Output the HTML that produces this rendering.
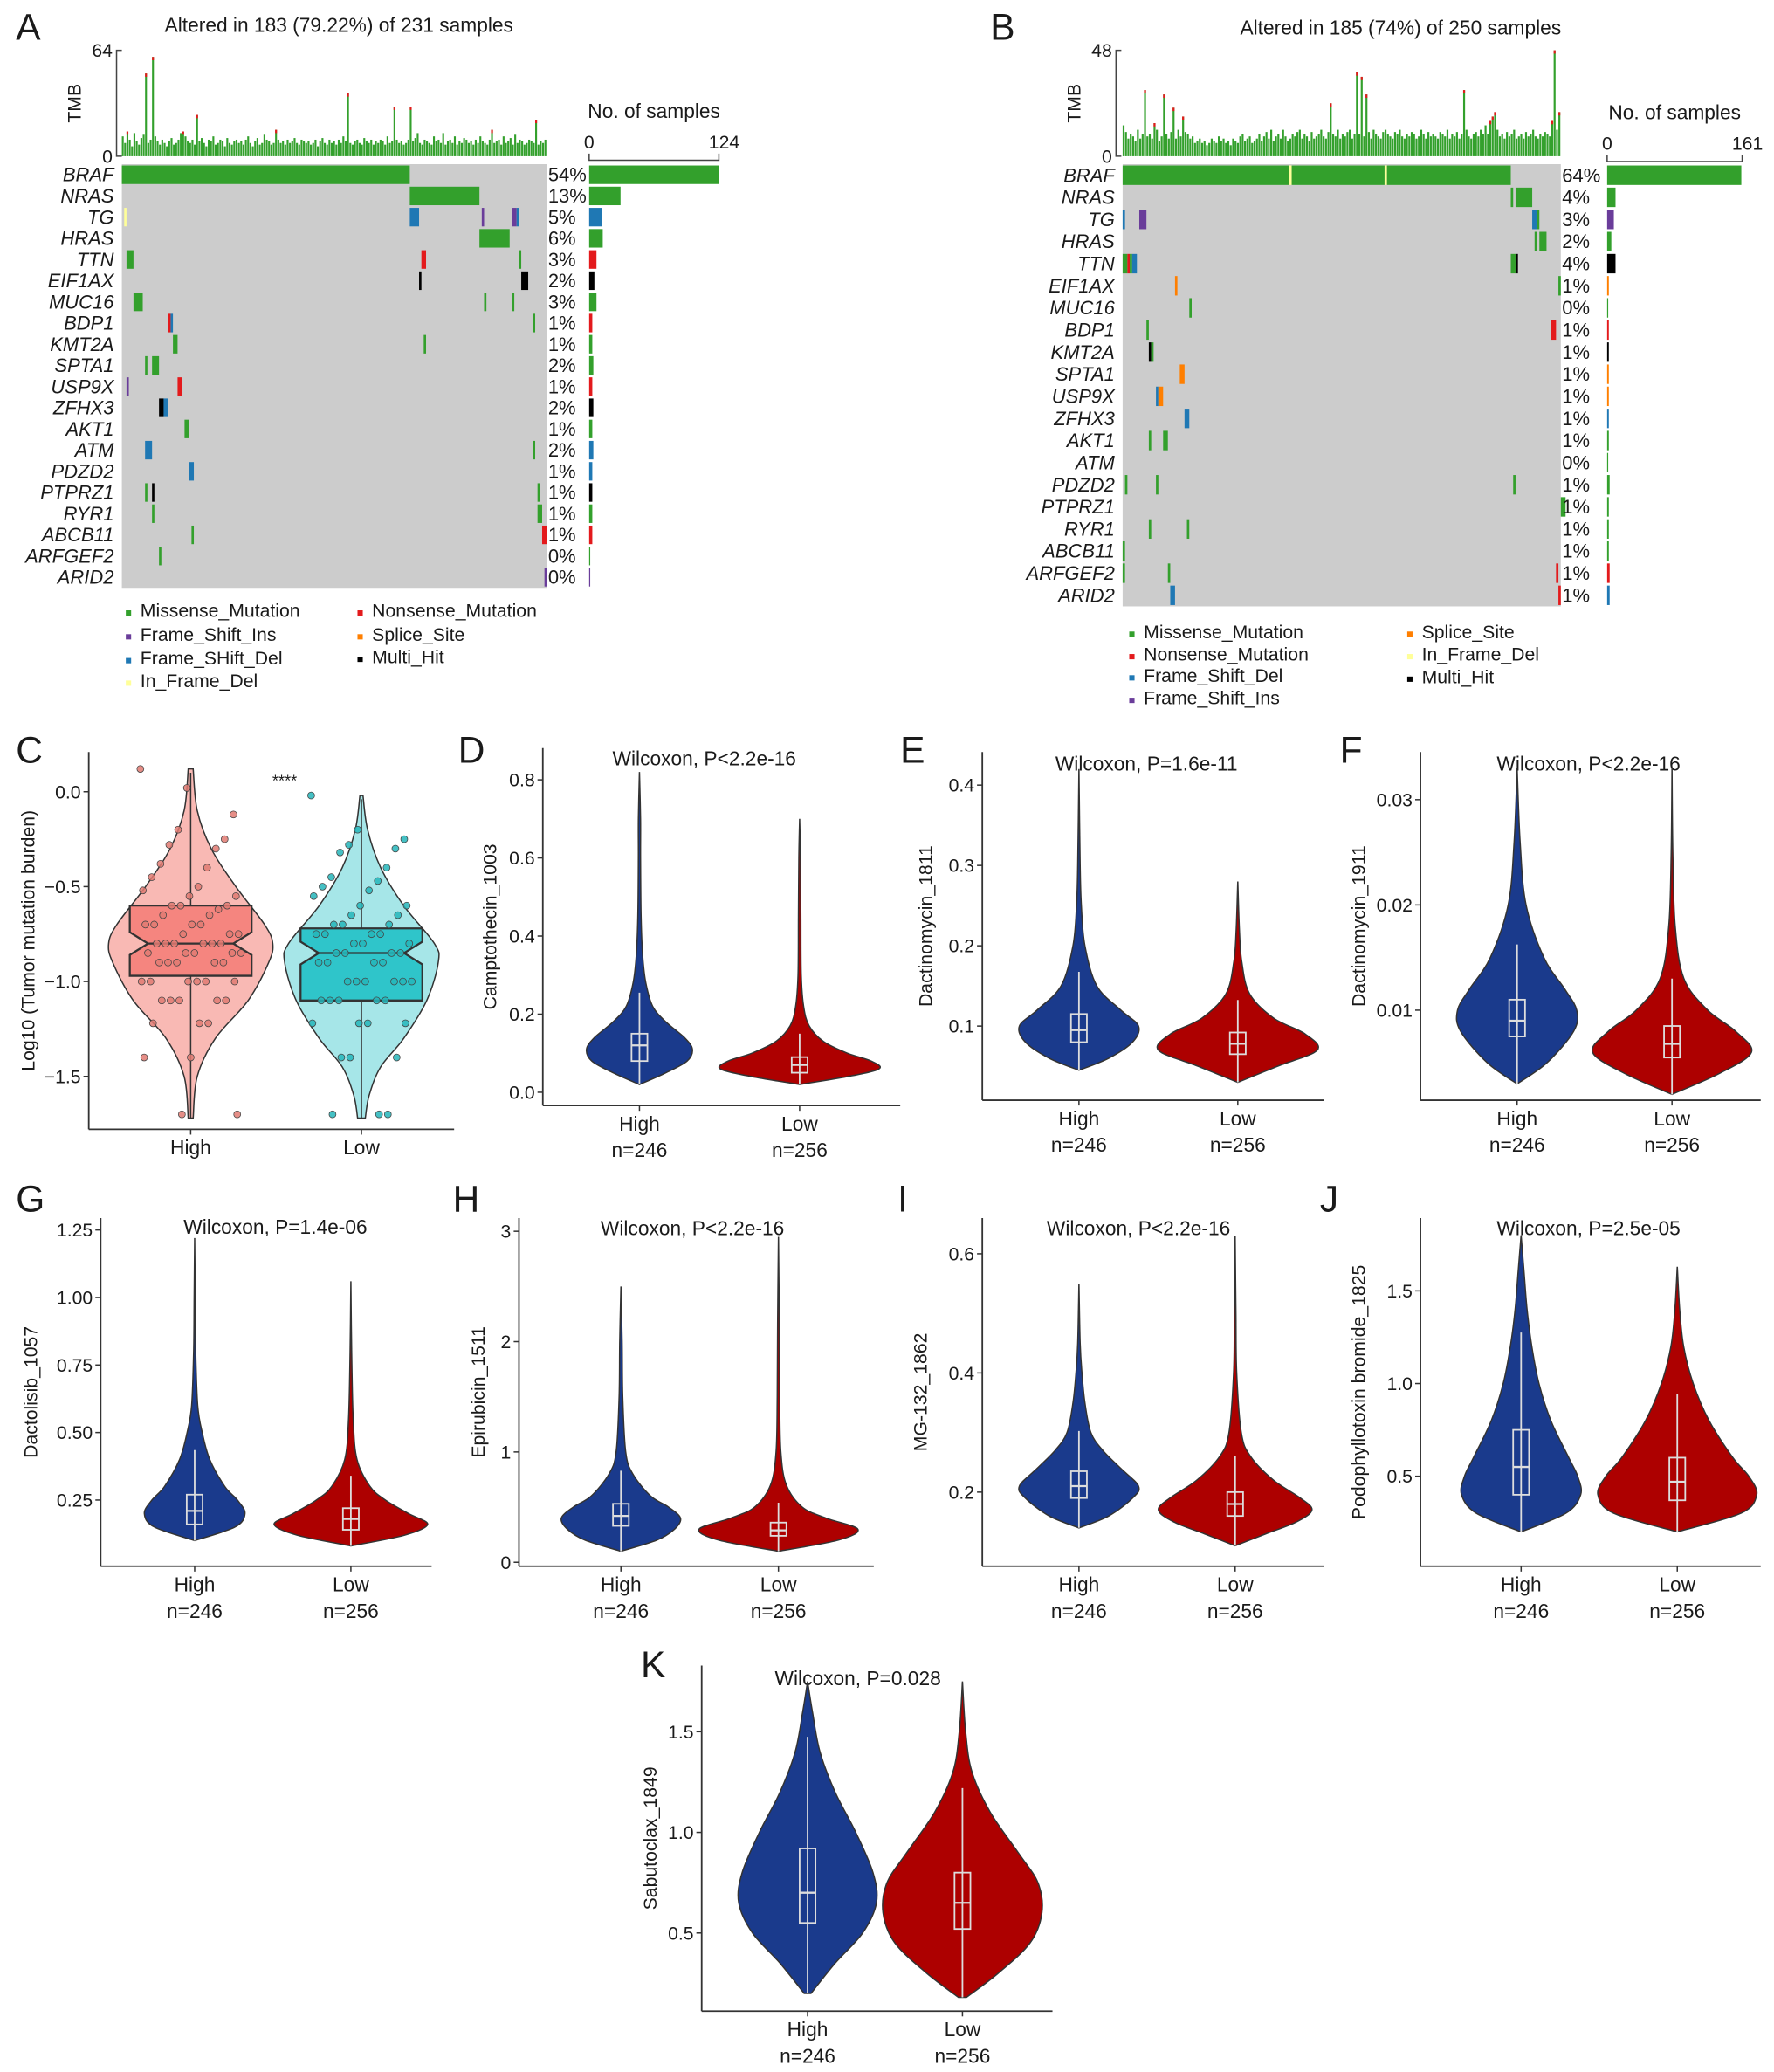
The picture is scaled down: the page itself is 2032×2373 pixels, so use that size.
<!DOCTYPE html>
<html><head><meta charset="utf-8"><style>
html,body{margin:0;padding:0;background:#fff}
svg{display:block}
text{font-family:"Liberation Sans",Arial,sans-serif;fill:#1a1a1a}
</style></head><body>
<svg id="fig" xmlns="http://www.w3.org/2000/svg" width="2032" height="2373" viewBox="0 0 1340 1565"></svg>
<script>
// ---------- Oncoplot data ----------
const typeNames=['Missense_Mutation','Nonsense_Mutation','Frame_Shift_Ins','Frame_Shift_Del','Splice_Site','In_Frame_Del','Multi_Hit'];
const typeColors=['#33a02c','#e31a1c','#6a3d9a','#1f78b4','#ff7f00','#ffff99','#000000'];
const genesA=['BRAF','NRAS','TG','HRAS','TTN','EIF1AX','MUC16','BDP1','KMT2A','SPTA1','USP9X','ZFHX3','AKT1','ATM','PDZD2','PTPRZ1','RYR1','ABCB11','ARFGEF2','ARID2'];
const pctA=['54%','13%','5%','6%','3%','2%','3%','1%','1%','2%','1%','2%','1%','2%','1%','1%','1%','1%','0%','0%'];
const countsA=[124,30,12,13,7,5,7,3,3,4,3,4,3,4,3,3,3,3,1,1];
const barTypeA=[0,0,3,0,1,6,0,1,0,0,1,6,0,3,3,6,0,1,0,2];
const segsA=[
 [[0,124,0]],[[124,154,0]],[[1,2,5],[124,128,3],[155,156,2],[168,170,2],[170,171,3]],[[154,167,0]],
 [[2,5,0],[129,131,1],[171,172,0]],[[128,129,6],[172,175,6]],[[5,9,0],[156,157,0],[168,169,0]],
 [[20,21,1],[21,22,3],[177,178,0]],[[22,24,0],[130,131,0]],[[10,11,0],[13,16,0]],[[2,3,2],[24,26,1]],
 [[16,18,6],[18,20,3]],[[27,29,0]],[[10,13,3],[177,178,0]],[[29,31,3]],[[10,11,0],[13,14,6],[179,180,0]],
 [[13,14,0],[179,181,0]],[[30,31,0],[181,183,1]],[[16,17,0]],[[182,183,2]]
];
const tmbA=[12,8,15,10,6,14,9,7,11,13,50,8,10,60,12,9,7,10,8,6,9,11,7,8,10,14,15,12,9,8,10,7,25,9,11,8,6,10,9,12,7,8,10,9,6,11,8,7,9,10,8,9,7,10,12,8,6,9,11,7,8,13,10,9,7,8,16,10,8,9,7,10,8,9,11,8,7,10,9,8,9,7,8,10,6,9,11,8,7,10,8,9,7,10,8,12,9,38,8,7,9,10,8,7,11,9,8,10,7,9,8,10,9,7,12,8,9,30,10,8,9,7,8,10,30,9,11,14,8,7,10,9,8,7,12,9,10,8,14,7,9,10,8,12,7,9,8,11,10,8,9,7,10,8,12,9,8,7,10,16,8,9,10,7,12,8,9,11,7,13,8,10,9,7,8,10,9,8,22,7,9,8,10];
const genesB=['BRAF','NRAS','TG','HRAS','TTN','EIF1AX','MUC16','BDP1','KMT2A','SPTA1','USP9X','ZFHX3','AKT1','ATM','PDZD2','PTPRZ1','RYR1','ABCB11','ARFGEF2','ARID2'];
const pctB=['64%','4%','3%','2%','4%','1%','0%','1%','1%','1%','1%','1%','1%','0%','1%','1%','1%','1%','1%','1%'];
const countsB=[160,10,8,5,10,2,1,2,2,2,2,2,2,0,3,2,2,2,3,3];
const barTypeB=[0,0,2,0,6,4,0,1,6,4,4,3,0,0,0,0,0,0,1,3];
const segsB=[
 [[0,70,0],[70,71,5],[71,110,0],[110,111,5],[111,163,0]],[[163,164,0],[165,172,0]],[[0,1,3],[7,10,2],[172,174,3],[174,175,0]],[[173,174,0],[175,178,0]],
 [[0,2,0],[2,3,1],[3,4,0],[4,6,3],[163,165,0],[165,166,6]],[[22,23,4],[183,184,0]],[[28,29,0]],[[10,11,0],[180,182,1]],
 [[11,12,6],[12,13,0]],[[24,26,4]],[[14,15,3],[15,17,4]],[[26,28,3]],[[11,12,0],[17,19,0]],[],
 [[1,2,0],[14,15,0],[164,165,0]],[[184,186,0]],[[11,12,0],[27,28,0]],[[0,1,0]],[[0,1,0],[19,20,0],[182,183,1]],[[20,22,3],[183,184,1]]
];
const tmbB=[14,11,8,10,9,7,12,8,10,30,9,10,8,15,12,7,9,28,10,8,11,22,8,12,9,18,11,10,8,9,6,7,8,6,7,5,6,8,7,6,9,7,8,6,7,5,8,7,6,9,10,7,8,9,6,7,8,10,7,9,11,8,12,7,9,10,8,12,9,7,8,10,9,11,12,8,10,9,7,11,8,9,10,12,9,8,11,24,10,9,12,8,10,9,11,12,8,10,38,10,36,9,28,11,8,12,10,9,8,11,12,10,9,8,11,10,12,9,8,10,9,11,10,8,9,12,10,8,11,9,10,9,8,11,10,9,12,8,10,9,11,8,10,30,12,9,8,10,11,9,12,10,14,10,16,18,20,12,9,10,8,11,9,10,12,8,9,10,8,11,9,10,12,9,8,10,9,11,10,9,16,48,12,20];

// ---------- Violin data (C) ----------
const cTicks=[0,-0.5,-1,-1.5];
const cTickLabels=['0.0','\u22120.5','\u22121.0','\u22121.5'];
const cHighVals=[-1.72,-1.5,-1.3,-1.1,-0.9,-0.8,-0.7,-0.5,-0.3,-0.1,0.12];
const cHighDens=[0.03,0.08,0.3,0.7,0.95,1,0.9,0.55,0.25,0.08,0.03];
const cHighBox=[-0.97,-0.8,-0.6];
const cLowVals=[-1.72,-1.6,-1.45,-1.3,-1.1,-0.9,-0.8,-0.6,-0.4,-0.2,-0.02];
const cLowDens=[0.05,0.1,0.25,0.55,0.85,1,0.95,0.55,0.25,0.08,0.02];
const cLowBox=[-1.1,-0.85,-0.72];
const cHighPts=[0.12,0.02,-0.12,-0.2,-0.25,-0.28,-0.3,-0.38,-0.4,-0.45,-0.5,-0.52,-0.55,-0.55,-0.6,-0.6,-0.6,-0.62,-0.65,-0.65,-0.7,-0.7,-0.7,-0.7,-0.75,-0.75,-0.75,-0.8,-0.8,-0.8,-0.8,-0.8,-0.8,-0.85,-0.85,-0.85,-0.85,-0.85,-0.9,-0.9,-0.9,-0.9,-0.9,-1,-1,-1,-1,-1,-1,-1.1,-1.1,-1.1,-1.1,-1.1,-1.22,-1.22,-1.22,-1.4,-1.4,-1.7,-1.7];
const cLowPts=[-0.02,-0.2,-0.25,-0.28,-0.3,-0.32,-0.4,-0.45,-0.47,-0.5,-0.52,-0.55,-0.6,-0.6,-0.65,-0.65,-0.7,-0.7,-0.7,-0.75,-0.75,-0.75,-0.75,-0.8,-0.8,-0.8,-0.85,-0.85,-0.85,-0.85,-0.9,-0.9,-0.9,-0.9,-1,-1,-1,-1,-1,-1,-1.1,-1.1,-1.1,-1.1,-1.1,-1.22,-1.22,-1.22,-1.22,-1.4,-1.4,-1.4,-1.7,-1.7,-1.7];

// ---------- Violin data (D–K) ----------
const dTicks=[0,0.2,0.4,0.6,0.8]; const dTickLabels=['0.0','0.2','0.4','0.6','0.8'];
const dHighVals=[0.02,0.05,0.08,0.11,0.14,0.18,0.22,0.28,0.35,0.45,0.6,0.7,0.82];
const dHighDens=[0,0.5,0.9,1,0.85,0.5,0.25,0.12,0.06,0.03,0.02,0.02,0];
const dHighBox=[0.08,0.12,0.15];
const dLowVals=[0.02,0.04,0.06,0.08,0.1,0.13,0.17,0.22,0.3,0.45,0.6,0.7];
const dLowDens=[0,0.6,1,0.9,0.6,0.3,0.12,0.05,0.02,0.015,0.01,0];
const dLowBox=[0.05,0.07,0.09];

const eTicks=[0.1,0.2,0.3,0.4]; const eTickLabels=['0.1','0.2','0.3','0.4'];
const eHighVals=[0.045,0.06,0.08,0.1,0.12,0.15,0.2,0.25,0.3,0.42];
const eHighDens=[0,0.5,0.9,1,0.7,0.3,0.1,0.04,0.02,0];
const eHighBox=[0.08,0.095,0.115];
const eLowVals=[0.03,0.05,0.07,0.09,0.11,0.14,0.18,0.22,0.28];
const eLowDens=[0,0.5,1,0.85,0.45,0.15,0.05,0.02,0];
const eLowBox=[0.065,0.078,0.092];

const fTicks=[0.01,0.02,0.03]; const fTickLabels=['0.01','0.02','0.03'];
const fHighVals=[0.003,0.005,0.008,0.01,0.012,0.015,0.02,0.026,0.033];
const fHighDens=[0,0.5,0.95,1,0.8,0.45,0.15,0.05,0];
const fHighBox=[0.0075,0.009,0.011];
const fLowVals=[0.002,0.004,0.006,0.008,0.01,0.013,0.018,0.025,0.033];
const fLowDens=[0,0.6,1,0.8,0.45,0.15,0.04,0.01,0];
const fLowBox=[0.0055,0.0068,0.0085];

const gTicks=[0.25,0.5,0.75,1,1.25]; const gTickLabels=['0.25','0.50','0.75','1.00','1.25'];
const gHighVals=[0.1,0.15,0.2,0.25,0.3,0.4,0.5,0.6,0.8,1.0,1.22];
const gHighDens=[0,0.8,1,0.85,0.6,0.3,0.15,0.06,0.02,0.01,0];
const gHighBox=[0.16,0.21,0.27];
const gLowVals=[0.08,0.12,0.16,0.2,0.25,0.3,0.4,0.55,0.8,1.06];
const gLowDens=[0,0.7,1,0.75,0.45,0.25,0.08,0.03,0.01,0];
const gLowBox=[0.14,0.18,0.22];

const hTicks=[0,1,2,3]; const hTickLabels=['0','1','2','3'];
const hHighVals=[0.1,0.2,0.3,0.4,0.5,0.6,0.8,1.0,1.5,2.0,2.5];
const hHighDens=[0,0.6,0.9,1,0.8,0.5,0.2,0.08,0.03,0.02,0];
const hHighBox=[0.33,0.42,0.53];
const hLowVals=[0.1,0.2,0.3,0.4,0.5,0.7,1.0,1.5,2.2,2.95];
const hLowDens=[0,0.75,1,0.6,0.3,0.1,0.03,0.015,0.01,0];
const hLowBox=[0.24,0.29,0.36];

const iTicks=[0.2,0.4,0.6]; const iTickLabels=['0.2','0.4','0.6'];
const iHighVals=[0.14,0.16,0.19,0.21,0.24,0.27,0.3,0.35,0.4,0.45,0.55];
const iHighDens=[0,0.5,0.9,1,0.7,0.4,0.2,0.1,0.05,0.02,0];
const iHighBox=[0.19,0.21,0.235];
const iLowVals=[0.11,0.13,0.15,0.17,0.19,0.22,0.26,0.3,0.4,0.5,0.63];
const iLowDens=[0,0.4,0.8,1,0.85,0.5,0.2,0.08,0.02,0.01,0];
const iLowBox=[0.16,0.18,0.2];

const jTicks=[0.5,1,1.5]; const jTickLabels=['0.5','1.0','1.5'];
const jHighVals=[0.2,0.3,0.4,0.5,0.6,0.8,1.0,1.2,1.4,1.6,1.8];
const jHighDens=[0,0.75,1,0.95,0.8,0.5,0.3,0.18,0.1,0.05,0];
const jHighBox=[0.4,0.55,0.75];
const jLowVals=[0.2,0.3,0.4,0.5,0.6,0.8,1.0,1.2,1.4,1.63];
const jLowDens=[0,0.8,1,0.9,0.7,0.4,0.2,0.08,0.03,0];
const jLowBox=[0.37,0.47,0.6];

const kTicks=[0.5,1,1.5]; const kTickLabels=['0.5','1.0','1.5'];
const kHighVals=[0.2,0.35,0.5,0.65,0.8,1.0,1.2,1.4,1.6,1.75];
const kHighDens=[0.05,0.4,0.8,1,0.95,0.7,0.4,0.18,0.07,0];
const kHighBox=[0.55,0.7,0.92];
const kLowVals=[0.18,0.3,0.45,0.6,0.75,0.9,1.1,1.3,1.5,1.75];
const kLowDens=[0.05,0.45,0.85,1,0.95,0.7,0.35,0.12,0.04,0];
const kLowBox=[0.52,0.65,0.8];

// ---------- helpers ----------
const NS='http://www.w3.org/2000/svg';
const svg=document.getElementById('fig');
function mk(tag,attrs,parent){const e=document.createElementNS(NS,tag);for(const k in attrs)e.setAttribute(k,attrs[k]);(parent||svg).appendChild(e);return e;}
function txt(x,y,s,size,anchor,extra,parent){const e=mk('text',Object.assign({x:x,y:y,'font-size':size,'text-anchor':anchor||'start'},extra||{}),parent);e.textContent=s;return e;}
function grp(){return mk('g',{});}

// ---------- Oncoplot ----------
function drawOnco(o){
  const g=grp();
  
  
  const L=txt(o.letterX,o.letterY,o.letter,28,'start',{},g);
  
  
  const T=txt(o.titleX,o.titleY,o.title,15,'middle',{},g);
  
  
  const n=o.tmb.length, sw=(o.gx1-o.gx0)/n;
  const ty=v=>o.tmbBase-(v/o.tmbMax)*(o.tmbBase-o.tmbTop);
  const ax=mk('path',{d:`M${o.tmbAxisX+4},${o.tmbTop}H${o.tmbAxisX}V${o.tmbBase}H${o.tmbAxisX+4}`,fill:'none',stroke:'#444','stroke-width':1},g);
  
  
  txt(o.tmbAxisX-3,o.tmbTop+5,String(o.tmbMax),14,'end',{},g);
  txt(o.tmbAxisX-3,o.tmbBase+5,'0',14,'end',{},g);
  const tl=txt(0,0,'TMB',14,'middle',{transform:`translate(${o.tmbAxisX-27},${(o.tmbTop+o.tmbBase)/2}) rotate(-90)`},g);
  
  
  o.tmb.forEach((v,i)=>{
    const x=o.gx0+i*sw, y=ty(v);
    const b=mk('rect',{x:x,y:y,width:sw*0.8,height:o.tmbBase-y,fill:'#33a02c'},g);
    
    
    if(v>14){const c=mk('rect',{x:x,y:y,width:sw*0.8,height:2.5,fill:'#e31a1c'},g);
      
      }
  });
  const rows=o.genes.length, rh=(o.gy1-o.gy0)/rows;
  const bg=mk('rect',{x:o.gx0,y:o.gy0,width:o.gx1-o.gx0,height:o.gy1-o.gy0,fill:'#cccccc'},g);
  
  
  o.genes.forEach((gn,r)=>{
    const yc=o.gy0+r*rh;
    const gl=txt(o.gx0-6,yc+rh/2+5,gn,14.5,'end',{'font-style':'italic'},g);
    
    
    o.segs[r].forEach(s=>{
      const rc=mk('rect',{x:o.gx0+s[0]*sw,y:yc+1,width:(s[1]-s[0])*sw,height:rh-2,fill:typeColors[s[2]]},g);
      
      
    });
    const pl=txt(o.gx1+1,yc+rh/2+5,o.pct[r],14.5,'start',{},g);
    
    
    const bw=o.counts[r]/o.cmax*(o.bx1-o.bx0);
    const br=mk('rect',{x:o.bx0,y:yc+1,width:Math.max(bw,0.8),height:rh-2,fill:typeColors[o.barType[r]]},g);
    
    
  });
  const ra=mk('path',{d:`M${o.bx0},${o.baxY-5}V${o.baxY}H${o.bx1}V${o.baxY-5}`,fill:'none',stroke:'#444'},g);
  
  
  txt(o.bx0,o.baxY-9,'0',14,'middle',{},g);
  txt(o.bx1+4,o.baxY-9,String(o.cmax),14,'middle',{},g);
  const nt=txt((o.bx0+o.bx1)/2,o.baxY-32,'No. of samples',15,'middle',{},g);
  
  
  o.legend.forEach(l=>{
    const lr=mk('rect',{x:l[0],y:l[1]-4,width:4,height:4,fill:typeColors[l[2]]},g);
    
    
    const lt=txt(l[0]+11,l[1]+1,typeNames[l[2]]==='Frame_Shift_Del'&&o.name==='oncoplot-a'?'Frame_SHift_Del':typeNames[l[2]],14,'start',{},g);
    
    
  });
}
drawOnco({name:'oncoplot-a',letter:'A',letterX:12,letterY:30,title:'Altered in 183 (79.22%) of 231 samples',titleX:256,titleY:24,
 tmb:tmbA,tmbMax:64,tmbTop:38,tmbBase:118,tmbAxisX:88,gx0:92,gx1:413,gy0:124,gy1:444,genes:genesA,segs:segsA,pct:pctA,counts:countsA,barType:barTypeA,
 cmax:124,bx0:445,bx1:543,baxY:121,
 legend:[[95,465,0],[95,483,2],[95,501,3],[95,518,5],[270,465,1],[270,483,4],[270,500,6]]});
drawOnco({name:'oncoplot-b',letter:'B',letterX:748,letterY:30,title:'Altered in 185 (74%) of 250 samples',titleX:1058,titleY:26,
 tmb:tmbB,tmbMax:48,tmbTop:38,tmbBase:118,tmbAxisX:843,gx0:848,gx1:1179,gy0:124,gy1:458,genes:genesB,segs:segsB,pct:pctB,counts:countsB,barType:barTypeB,
 cmax:161,bx0:1214,bx1:1316,baxY:122,
 legend:[[853,481,0],[853,498,1],[853,514,3],[853,531,2],[1063,481,4],[1063,498,5],[1063,515,6]]});

// ---------- Violin panels ----------
function smooth(pts){
  let d='';
  for(let i=0;i<pts.length-1;i++){
    const p0=pts[Math.max(i-1,0)],p1=pts[i],p2=pts[i+1],p3=pts[Math.min(i+2,pts.length-1)];
    const c1=[p1[0]+(p2[0]-p0[0])/6,p1[1]+(p2[1]-p0[1])/6];
    const c2=[p2[0]-(p3[0]-p1[0])/6,p2[1]-(p3[1]-p1[1])/6];
    d+=`C${c1[0]},${c1[1]} ${c2[0]},${c2[1]} ${p2[0]},${p2[1]}`;
  }
  return d;
}
function violinPath(vals,dens,cx,half,sy){
  const right=vals.map((v,i)=>[cx+dens[i]*half,sy(v)]);
  const left=vals.map((v,i)=>[cx-dens[i]*half,sy(v)]).reverse();
  return `M${right[0][0]},${right[0][1]}`+smooth(right)+`L${left[0][0]},${left[0][1]}`+smooth(left)+'Z';
}
function drawPanel(p){
  const g=grp();
  
  
  const sy=v=>p.ymap[1]+(v-p.ymap[0])*(p.ymap[3]-p.ymap[1])/(p.ymap[2]-p.ymap[0]);
  const L=txt(p.letterX,p.letterY,p.letter,28,'start',{},g);
  
  
  if(p.title){const t=txt(p.titleX||(p.x0+p.xEnd)/2,p.titleY,p.title,15,'middle',{},g);
    
    }
  const ya=mk('line',{x1:p.x0,y1:p.yTop,x2:p.x0,y2:p.yBot,stroke:'#333','stroke-width':1.2},g);
  
  
  const xa=mk('line',{x1:p.x0,y1:p.yBot,x2:p.xEnd,y2:p.yBot,stroke:'#333','stroke-width':1.2},g);
  
  
  p.ticks.forEach((t,i)=>{
    mk('line',{x1:p.x0-4,y1:sy(t),x2:p.x0,y2:sy(t),stroke:'#333'},g);
    const tl=txt(p.x0-6,sy(t)+5,p.tickLabels[i],14,'end',{fill:'#333'},g);
    
    
  });
  const yt=txt(0,0,p.ytitle,14,'middle',{transform:`translate(${p.ytitleX},${(p.yTop+p.yBot)/2}) rotate(-90)`},g);
  
  
  ['High','Low'].forEach((lab,k)=>{
    const cx=p.cx[k];
    mk('line',{x1:cx,y1:p.yBot,x2:cx,y2:p.yBot+4,stroke:'#333'},g);
    const xl=txt(cx,p.yBot+19,lab,15,'middle',{},g);
    
    
    if(p.nlab){const nl=txt(cx,p.yBot+39,p.nlab[k],15,'middle',{},g);
      
      }
    const vals=k?p.lowVals:p.highVals, dens=k?p.lowDens:p.highDens, box=k?p.lowBox:p.highBox;
    const vp=mk('path',{d:violinPath(vals,dens,cx,p.half[k],sy),fill:p.fill[k],stroke:'#333','stroke-width':1},g);
    
    
    const iqr=box[2]-box[0];
    const lo=Math.max(vals[0],box[0]-1.5*iqr), hi=Math.min(vals[vals.length-1],box[2]+1.5*iqr);
    if(p.notch){
      const hw=p.boxHalf,n=0.06;
      const wl=mk('line',{x1:cx,y1:sy(vals[0]),x2:cx,y2:sy(vals[vals.length-1]-0.02),stroke:'#333'},g);
      
      
      const d=`M${cx-hw},${sy(box[2])}H${cx+hw}V${sy(box[1]+n)}L${cx+hw*0.7},${sy(box[1])}L${cx+hw},${sy(box[1]-n)}V${sy(box[0])}H${cx-hw}V${sy(box[1]-n)}L${cx-hw*0.7},${sy(box[1])}L${cx-hw},${sy(box[1]+n)}Z`;
      const bx=mk('path',{d:d,fill:p.boxFill[k],stroke:'#333','stroke-width':1.5},g);
      
      
      mk('line',{x1:cx-hw*0.7,y1:sy(box[1]),x2:cx+hw*0.7,y2:sy(box[1]),stroke:'#333','stroke-width':1.5},g);
      const pts=k?p.lowPts:p.highPts;
      pts.forEach((v,i)=>{
        const jx=((i*37)%81-40)*0.95;
        const c=mk('circle',{cx:cx+jx,cy:sy(v),r:2.6,fill:p.ptFill[k],stroke:'#444','stroke-width':0.5,'fill-opacity':0.85},g);
        
        
      });
    } else {
      const wl=mk('line',{x1:cx,y1:sy(lo),x2:cx,y2:sy(hi),stroke:'#ddd','stroke-width':1.2},g);
      
      
      const bx=mk('rect',{x:cx-6,y:sy(box[2]),width:12,height:sy(box[0])-sy(box[2]),fill:'none',stroke:'#ddd','stroke-width':1.2},g);
      
      
      const md=mk('line',{x1:cx-6,y1:sy(box[1]),x2:cx+6,y2:sy(box[1]),stroke:'#ddd','stroke-width':1.5},g);
      
      
    }
  });
  if(p.sig){const s=txt(p.sig[0],p.sig[1],'****',12,'middle',{},g);
    
    }
}
const BL='#1a3a8c', RD='#ad0000', NL=['n=246','n=256'];
drawPanel({name:'panel-c',letter:'C',letterX:12,letterY:576,x0:67,xEnd:343,yTop:568,yBot:853,ymap:[0,598,-1.5,813],ticks:cTicks,tickLabels:cTickLabels,
 ytitle:'Log10 (Tumor mutation burden)',ytitleX:26,cx:[144,273],half:[62,58],fill:['#f9b9b4','#a6e6e8'],boxFill:['#f5857f','#2fc5ca'],ptFill:['#e07a72','#25b5ba'],
 highVals:cHighVals,highDens:cHighDens,highBox:cHighBox,lowVals:cLowVals,lowDens:cLowDens,lowBox:cLowBox,highPts:cHighPts,lowPts:cLowPts,notch:true,boxHalf:46,sig:[215,594]});
drawPanel({name:'panel-d',letter:'D',letterX:346,letterY:576,title:'Wilcoxon, P<2.2e-16',titleX:532,titleY:578,x0:410,xEnd:680,yTop:565,yBot:835,ymap:[0,825,0.8,589],ticks:dTicks,tickLabels:dTickLabels,
 ytitle:'Camptothecin_1003',ytitleX:375,cx:[483,604],half:[40,60],fill:[BL,RD],nlab:NL,highVals:dHighVals,highDens:dHighDens,highBox:dHighBox,lowVals:dLowVals,lowDens:dLowDens,lowBox:dLowBox});
drawPanel({name:'panel-e',letter:'E',letterX:680,letterY:576,title:'Wilcoxon, P=1.6e-11',titleX:866,titleY:582,x0:742,xEnd:1000,yTop:568,yBot:831,ymap:[0.1,775,0.4,593],ticks:eTicks,tickLabels:eTickLabels,
 ytitle:'Dactinomycin_1811',ytitleX:704,cx:[815,935],half:[45,60],fill:[BL,RD],nlab:NL,highVals:eHighVals,highDens:eHighDens,highBox:eHighBox,lowVals:eLowVals,lowDens:eLowDens,lowBox:eLowBox});
drawPanel({name:'panel-f',letter:'F',letterX:1012,letterY:576,title:'Wilcoxon, P<2.2e-16',titleX:1200,titleY:582,x0:1073,xEnd:1330,yTop:568,yBot:831,ymap:[0.01,763,0.03,604],ticks:fTicks,tickLabels:fTickLabels,
 ytitle:'Dactinomycin_1911',ytitleX:1031,cx:[1146,1263],half:[45,60],fill:[BL,RD],nlab:NL,highVals:fHighVals,highDens:fHighDens,highBox:fHighBox,lowVals:fLowVals,lowDens:fLowDens,lowBox:fLowBox});
drawPanel({name:'panel-g',letter:'G',letterX:12,letterY:915,title:'Wilcoxon, P=1.4e-06',titleX:208,titleY:932,x0:76,xEnd:326,yTop:920,yBot:1183,ymap:[0.25,1133,1.25,929],ticks:gTicks,tickLabels:gTickLabels,
 ytitle:'Dactolisib_1057',ytitleX:28,cx:[147,265],half:[38,58],fill:[BL,RD],nlab:NL,highVals:gHighVals,highDens:gHighDens,highBox:gHighBox,lowVals:gLowVals,lowDens:gLowDens,lowBox:gLowBox});
drawPanel({name:'panel-h',letter:'H',letterX:342,letterY:915,title:'Wilcoxon, P<2.2e-16',titleX:523,titleY:933,x0:392,xEnd:660,yTop:920,yBot:1183,ymap:[0,1180,3,930],ticks:hTicks,tickLabels:hTickLabels,
 ytitle:'Epirubicin_1511',ytitleX:366,cx:[469,588],half:[45,60],fill:[BL,RD],nlab:NL,highVals:hHighVals,highDens:hHighDens,highBox:hHighBox,lowVals:hLowVals,lowDens:hLowDens,lowBox:hLowBox});
drawPanel({name:'panel-i',letter:'I',letterX:678,letterY:915,title:'Wilcoxon, P<2.2e-16',titleX:860,titleY:933,x0:742,xEnd:1000,yTop:920,yBot:1183,ymap:[0.2,1127,0.6,947],ticks:iTicks,tickLabels:iTickLabels,
 ytitle:'MG-132_1862',ytitleX:700,cx:[815,933],half:[45,58],fill:[BL,RD],nlab:NL,highVals:iHighVals,highDens:iHighDens,highBox:iHighBox,lowVals:iLowVals,lowDens:iLowDens,lowBox:iLowBox});
drawPanel({name:'panel-j',letter:'J',letterX:997,letterY:915,title:'Wilcoxon, P=2.5e-05',titleX:1200,titleY:933,x0:1073,xEnd:1330,yTop:920,yBot:1183,ymap:[0.5,1115,1.5,975],ticks:jTicks,tickLabels:jTickLabels,
 ytitle:'Podophyllotoxin bromide_1825',ytitleX:1031,cx:[1149,1267],half:[45,60],fill:[BL,RD],nlab:NL,highVals:jHighVals,highDens:jHighDens,highBox:jHighBox,lowVals:jLowVals,lowDens:jLowDens,lowBox:jLowBox});
drawPanel({name:'panel-k',letter:'K',letterX:484,letterY:1267,title:'Wilcoxon, P=0.028',titleX:648,titleY:1273,x0:530,xEnd:795,yTop:1258,yBot:1519,ymap:[0.5,1460,1.5,1308],ticks:kTicks,tickLabels:kTickLabels,
 ytitle:'Sabutoclax_1849',ytitleX:496,cx:[610,727],half:[52,60],fill:[BL,RD],nlab:NL,highVals:kHighVals,highDens:kHighDens,highBox:kHighBox,lowVals:kLowVals,lowDens:kLowDens,lowBox:kLowBox});
</script>
</body></html>
